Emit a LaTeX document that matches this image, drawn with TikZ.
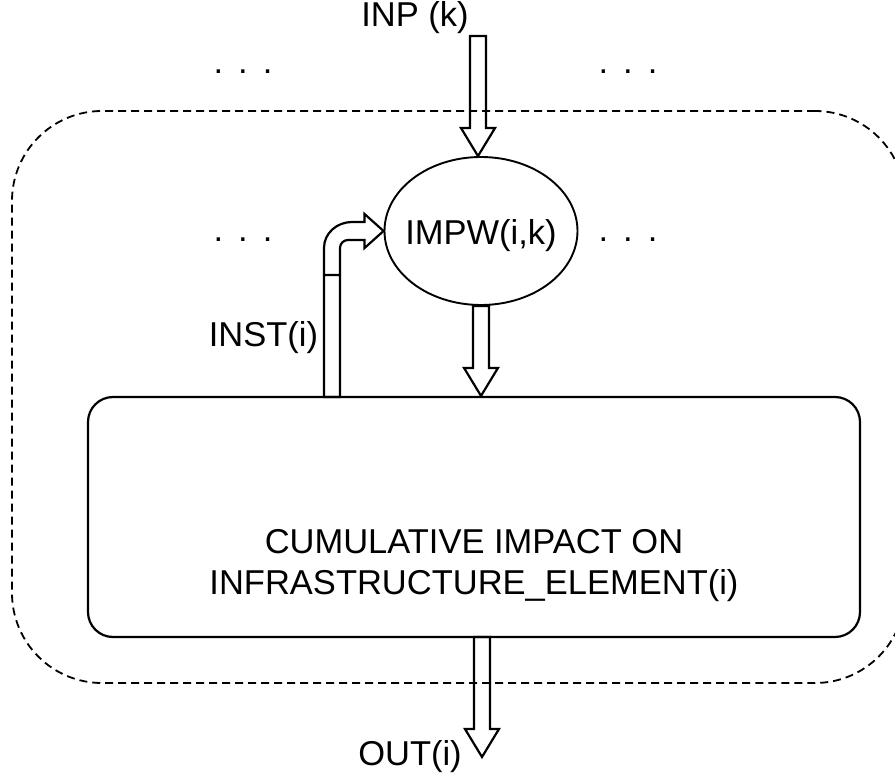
\documentclass[tikz,border=0pt]{standalone}
\usepackage{fontspec}
\setmainfont{Liberation Sans}
\usetikzlibrary{shapes.geometric, calc}

% hollow block arrow pointing down, from #1 to #2
\newcommand{\downblock}[2]{%
  \draw[blockarrow] let \p1=(#1), \p2=(#2) in
    (\x1-8pt,\y1) -- (\x1-8pt,\y2+28pt) -- (\x1-17pt,\y2+28pt) -- (\x1,\y2)
    -- (\x1+17pt,\y2+28pt) -- (\x1+8pt,\y2+28pt) -- (\x1+8pt,\y1) -- cycle;}
\newcommand{\dotrow}{.\hskip15pt.\hskip15pt.}

\begin{document}
\begin{tikzpicture}[x=1pt, y=-1pt,
            lbl/.style={font=\fontsize{34.5}{41}\selectfont, inner sep=0pt},
            element/.style={draw, rectangle, rounded corners=25pt, line width=2.2pt, minimum width=772pt, minimum height=240pt},
            weight/.style={draw, ellipse, line width=1.9pt, minimum width=193pt, minimum height=148pt, inner sep=0pt},
            boundary/.style={draw, dash pattern=on 8pt off 5pt, rounded corners=90pt, line width=1.8pt, minimum width=893pt, minimum height=572pt},
            blockarrow/.style={draw, line width=2.2pt, line join=miter}]

            \useasboundingbox (0,0) rectangle (895,778);
            \clip (0,0) rectangle (895,778);

            % Nodes
            \node (region) [boundary] at (458.5,397) {};
            \node (impw) [weight] at (481,231) {};
            \node (impw-text) [lbl, anchor=base] at ([yshift=-14pt]impw.center) {IMPW(i,k)};
            \node (element) [element] at (474,517) {};
            \node (element-text) [lbl, align=center] at (474,566) {CUMULATIVE IMPACT ON\\INFRASTRUCTURE\_ELEMENT(i)};

            \node (inp) [lbl, anchor=base] at (415,27) {INP (k)};
            \node (inst) [lbl, anchor=base] at (263.5,347) {INST(i)};
            \node (out) [lbl, anchor=base] at (410,765) {OUT(i)};

            \node (dots-tl) [lbl] at (243,72) {\dotrow};
            \node (dots-tr) [lbl] at (628,72) {\dotrow};
            \node (dots-ml) [lbl] at (243,240) {\dotrow};
            \node (dots-mr) [lbl] at (628,240) {\dotrow};

            \coordinate (inp-foot) at (478,36);
            \coordinate (inst-foot) at (332,397);
            \coordinate (out-foot) at (482,637);
            \coordinate (out-tip) at (482,757);

            % Arrows
            \downblock{inp-foot}{impw.north}
            \downblock{impw.south}{element.north}
            \downblock{out-foot}{out-tip}

            % INST(i) -> IMPW(i,k)
            \draw[blockarrow] let \p1=(inst-foot), \p2=(impw.west) in
              (\x1-8pt,\y1) -- (\x1-8pt,\y2-17pt) to[out=90,in=180] (\x1+20pt,\y2+9pt)
              -- (\x2-19pt,\y2+9pt) -- (\x2-19pt,\y2+17pt) -- (\x2,\y2)
              -- (\x2-19pt,\y2-17pt) -- (\x2-19pt,\y2-9pt) -- (\x1+16pt,\y2-9pt)
              to[out=180,in=90] (\x1+8pt,\y2-17pt) -- (\x1+8pt,\y1) -- cycle
              (\x1-8pt,\y2-44pt) -- (\x1+8pt,\y2-44pt);
        \end{tikzpicture}
\end{document}
